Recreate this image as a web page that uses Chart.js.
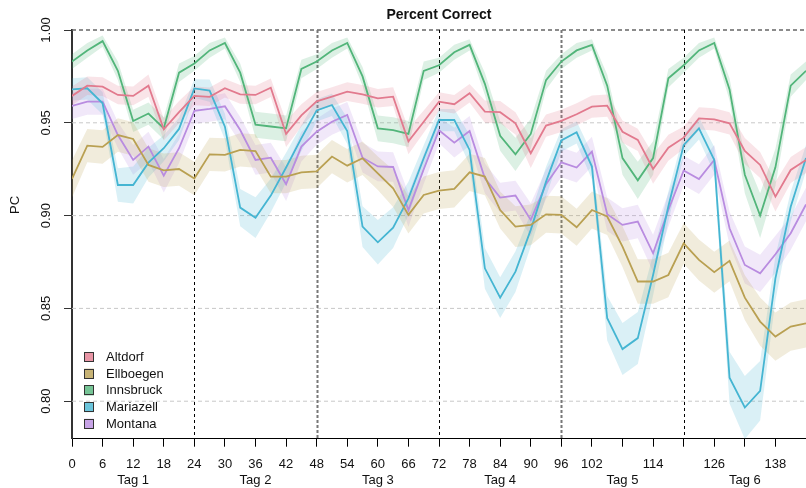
<!DOCTYPE html>
<html>
<head>
<meta charset="utf-8">
<title>Percent Correct</title>
<script src="https://cdn.jsdelivr.net/npm/chart.js@4.4.1/dist/chart.umd.min.js"></script>
<style>
  html, body { margin: 0; background: #fff; }
  canvas { display: block; }
</style>
</head>
<body>
<canvas id="pc" width="806" height="488"></canvas>
<script>
// Data (hours since start, every 3 h)
const hours = [0,3,6,9,12,15,18,21,24,27,30,33,36,39,42,45,48,51,54,57,60,63,66,69,72,75,78,81,84,87,90,93,96,99,102,105,108,111,114,117,120,123,126,129,132,135,138,141,144];

const stations = ['Altdorf', 'Ellboegen', 'Innsbruck', 'Mariazell', 'Montana'];

const altdorf = [0.9645,0.970,0.9695,0.965,0.9645,0.970,0.9465,0.9557,0.9645,
  0.964,0.9686,0.9653,0.965,0.9689,0.944,0.954,0.9616,
  0.9641,0.9668,0.9653,0.9632,0.9641,0.940,0.9506,0.9614,
  0.960,0.9659,0.956,0.9557,0.9497,0.9336,0.9485,0.951,
  0.9546,0.9587,0.9592,0.9452,0.9408,0.9251,0.9366,0.942,
  0.9524,0.9519,0.9497,0.9348,0.9273,0.9102,0.9246,0.930];
const ellboegen = [0.9198,0.9377,0.937,0.9434,0.9413,0.9273,0.9244,0.9251,0.920,
  0.933,0.9327,0.9354,0.9348,0.921,0.921,0.9233,0.9238,
  0.9318,0.9269,0.9309,0.9228,0.9147,0.9004,0.9111,0.9135,
  0.9144,0.9233,0.921,0.903,0.8941,0.895,0.9007,0.9004,
  0.8937,0.903,0.8995,0.8833,0.8645,0.8645,0.868,0.885,
  0.8761,0.8695,0.8756,0.8558,0.8429,0.8348,0.8402,0.842];
const innsbruck = [0.983,0.989,0.994,0.978,0.951,0.955,0.947,0.977,0.982,
  0.989,0.993,0.977,0.949,0.948,0.947,0.979,0.983,
  0.989,0.993,0.975,0.947,0.946,0.944,0.978,0.981,
  0.988,0.992,0.971,0.943,0.933,0.944,0.973,0.983,
  0.989,0.992,0.970,0.931,0.919,0.931,0.974,0.981,
  0.989,0.993,0.968,0.922,0.900,0.926,0.970,0.978];
const mariazell = [0.968,0.9686,0.9605,0.9165,0.9165,0.9285,0.9363,0.9467,0.9685,
  0.9673,0.9479,0.9043,0.8989,0.9108,0.9259,0.9417,0.9567,
  0.9596,0.9456,0.8941,0.8856,0.8935,0.9093,0.9309,0.9515,
  0.9515,0.9354,0.8716,0.8558,0.8698,0.8923,0.9183,0.9405,
  0.9449,0.9264,0.8447,0.8281,0.834,0.868,0.905,0.938,
  0.947,0.930,0.8127,0.7966,0.8056,0.8662,0.9048,0.931];
const montana = [0.9591,0.9614,0.9614,0.9434,0.930,0.9372,0.9215,0.9363,0.9564,
  0.9575,0.9589,0.9461,0.930,0.9312,0.9169,0.9372,0.9452,
  0.9506,0.9542,0.9312,0.9265,0.9262,0.903,0.925,0.946,
  0.9393,0.9456,0.9201,0.9097,0.9108,0.8977,0.9169,0.9287,
  0.9259,0.9345,0.9007,0.895,0.8968,0.8797,0.903,0.9243,
  0.9197,0.930,0.8932,0.8734,0.8689,0.8792,0.8905,0.906];

// half-width of the shaded confidence band
const altdorfCI = [0.005,0.005,0.005,0.005,0.005,0.006,0.006,0.006,0.005,
  0.005,0.005,0.005,0.005,0.005,0.007,0.006,0.005,
  0.005,0.005,0.005,0.005,0.005,0.007,0.006,0.005,
  0.005,0.005,0.006,0.006,0.006,0.008,0.006,0.006,
  0.006,0.006,0.006,0.006,0.006,0.008,0.007,0.006,
  0.006,0.006,0.006,0.007,0.007,0.008,0.007,0.007];
const ellboegenCI = [0.010,0.009,0.009,0.009,0.009,0.009,0.009,0.009,0.009,
  0.009,0.009,0.009,0.009,0.009,0.009,0.009,0.009,
  0.009,0.009,0.009,0.009,0.010,0.010,0.010,0.010,
  0.010,0.010,0.010,0.010,0.011,0.011,0.010,0.010,
  0.010,0.010,0.010,0.011,0.012,0.012,0.012,0.011,
  0.011,0.011,0.011,0.012,0.013,0.013,0.013,0.013];
const innsbruckCI = [0.004,0.004,0.003,0.005,0.006,0.006,0.006,0.005,0.004,
  0.004,0.003,0.005,0.007,0.007,0.007,0.005,0.004,
  0.004,0.003,0.005,0.007,0.007,0.007,0.005,0.004,
  0.004,0.003,0.006,0.008,0.009,0.008,0.005,0.004,
  0.004,0.003,0.006,0.009,0.010,0.009,0.005,0.004,
  0.004,0.003,0.006,0.010,0.012,0.010,0.006,0.005];
const mariazellCI = [0.006,0.006,0.006,0.009,0.010,0.008,0.007,0.006,0.005,
  0.006,0.007,0.010,0.011,0.009,0.008,0.007,0.006,
  0.006,0.007,0.011,0.012,0.011,0.009,0.007,0.006,
  0.006,0.008,0.011,0.011,0.011,0.009,0.008,0.006,
  0.006,0.007,0.012,0.014,0.014,0.011,0.008,0.006,
  0.006,0.007,0.014,0.017,0.016,0.012,0.008,0.007];
const montanaCI = [0.007,0.007,0.007,0.007,0.008,0.008,0.009,0.008,0.007,
  0.007,0.007,0.007,0.008,0.008,0.009,0.008,0.007,
  0.007,0.007,0.008,0.008,0.008,0.009,0.008,0.007,
  0.008,0.008,0.008,0.008,0.008,0.009,0.008,0.008,
  0.008,0.008,0.009,0.009,0.009,0.010,0.009,0.008,
  0.008,0.008,0.009,0.010,0.010,0.010,0.009,0.009];

// Axes
const xTicks = [0,6,12,18,24,30,36,42,48,54,60,66,72,78,84,90,96,102,108,114,120,126,132,138,144];
const xTickText = ['0','6','12','18','24','30','36','42','48','54','60','66','72','78','84','90','96','102','','114','','126','','138',''];
const dayCenters = [12,36,60,84,108,132];
const dayLabels = ['Tag 1','Tag 2','Tag 3','Tag 4','Tag 5','Tag 6'];
const dayBreaks = [24,48,72,96,120];
const yTicks = [0.80,0.85,0.90,0.95,1.00];
const yTickText = ['0.80','0.85','0.90','0.95','1.00'];

const FONT = '"Liberation Sans", Arial, Helvetica, sans-serif';
Chart.defaults.font.family = FONT;

const colors = ['#E27A8E', '#B9A052', '#52B57A', '#45B5D2', '#B98CE0'];
const values = [altdorf, ellboegen, innsbruck, mariazell, montana];
const cis = [altdorfCI, ellboegenCI, innsbruckCI, mariazellCI, montanaCI];

function rgba(hex, a) {
  const n = parseInt(hex.slice(1), 16);
  return `rgba(${n >> 16},${(n >> 8) & 255},${n & 255},${a})`;
}

const datasets = [];
stations.forEach((name, i) => {
  const v = values[i], ci = cis[i];
  datasets.push({
    label: name + ' upper',
    data: hours.map((h, k) => ({ x: h, y: v[k] + ci[k] })),
    borderWidth: 0, pointRadius: 0,
    backgroundColor: rgba(colors[i], 0.2),
    fill: '+1', order: 2
  });
  datasets.push({
    label: name + ' lower',
    data: hours.map((h, k) => ({ x: h, y: v[k] - ci[k] })),
    borderWidth: 0, pointRadius: 0, fill: false, order: 2
  });
  datasets.push({
    label: name,
    data: hours.map((h, k) => ({ x: h, y: v[k] })),
    borderColor: colors[i], borderWidth: 1.8,
    pointRadius: 0, fill: false, tension: 0, order: 1
  });
});

// Grid, title, rotated y labels, legend
const decor = {
  id: 'decor',
  beforeDatasetsDraw(chart) {
    const { ctx, chartArea: a, scales: { x, y } } = chart;
    ctx.save();
    yTicks.forEach(v => {
      const py = y.getPixelForValue(v);
      ctx.strokeStyle = v === 1 ? '#666' : '#c8c8c8';
      ctx.lineWidth = v === 1 ? 1.4 : 1;
      ctx.setLineDash([4, 3]);
      ctx.beginPath(); ctx.moveTo(a.left, py); ctx.lineTo(a.right, py); ctx.stroke();
    });
    dayBreaks.forEach((v, i) => {
      const px = Math.round(x.getPixelForValue(v)) + 0.5;
      const odd = i % 2 === 1;
      ctx.strokeStyle = odd ? '#777' : '#000';
      ctx.lineWidth = odd ? 2 : 1;
      ctx.setLineDash(odd ? [3, 2] : [3, 3]);
      ctx.beginPath(); ctx.moveTo(px, a.top); ctx.lineTo(px, a.bottom); ctx.stroke();
    });
    ctx.restore();
  },
  afterDraw(chart) {
    const { ctx, chartArea: a, scales: { y } } = chart;
    ctx.save();
    ctx.fillStyle = '#111';
    ctx.textAlign = 'center';
    ctx.textBaseline = 'middle';
    ctx.font = `bold 14px ${FONT}`;
    ctx.fillText('Percent Correct', (a.left + a.right) / 2, 15);

    ctx.font = `13px ${FONT}`;
    yTicks.forEach((v, i) => {
      ctx.save();
      ctx.translate(46, y.getPixelForValue(v));
      ctx.rotate(-Math.PI / 2);
      ctx.fillText(yTickText[i], 0, 0);
      ctx.restore();
    });
    ctx.save();
    ctx.translate(15, 205);
    ctx.rotate(-Math.PI / 2);
    ctx.fillText('PC', 0, 0);
    ctx.restore();

    // legend
    ctx.textAlign = 'left';
    ctx.font = `13px ${FONT}`;
    stations.forEach((name, i) => {
      const cy = 357 + i * 16.7;
      ctx.fillStyle = rgba(colors[i], 0.8);
      ctx.fillRect(84, cy - 5, 10, 10);
      ctx.strokeStyle = '#333';
      ctx.lineWidth = 1;
      ctx.strokeRect(84.5, Math.round(cy - 5) + 0.5, 9, 9);
      ctx.fillStyle = '#111';
      ctx.fillText(name, 106, cy + 0.5);
    });
    ctx.restore();
  }
};

new Chart(document.getElementById('pc'), {
  type: 'line',
  data: { datasets },
  options: {
    responsive: false,
    animation: false,
    layout: { padding: { top: 30, left: 0, right: 0, bottom: 0 } },
    plugins: { legend: { display: false }, title: { display: false }, tooltip: { enabled: false } },
    scales: {
      x: {
        type: 'linear', min: 0, max: 144,
        afterBuildTicks: s => { s.ticks = xTicks.map(v => ({ value: v })); },
        afterFit: s => { s.height = 49.3; s.paddingLeft = 0; s.paddingRight = 0; },
        ticks: {
          autoSkip: false, maxRotation: 0, minRotation: 0, padding: 10,
          color: '#111', font: { size: 13 },
          callback: (value) => {
            const i = xTicks.indexOf(value);
            const d = dayCenters.indexOf(value);
            return d >= 0 ? [xTickText[i], dayLabels[d]] : xTickText[i];
          }
        },
        grid: { drawOnChartArea: false, drawTicks: true, tickLength: 8, color: '#000' },
        border: { display: true, color: '#000', width: 1 }
      },
      y: {
        type: 'linear', min: 0.7798, max: 1.0,
        afterBuildTicks: s => { s.ticks = yTicks.map(v => ({ value: v })); },
        afterFit: s => { s.width = 72; s.paddingTop = 0; s.paddingBottom = 0; },
        ticks: { display: false },
        grid: { drawOnChartArea: false, drawTicks: true, tickLength: 8, color: '#333' },
        border: { display: true, color: '#333', width: 2 }
      }
    }
  },
  plugins: [decor]
});
</script>
</body>
</html>
